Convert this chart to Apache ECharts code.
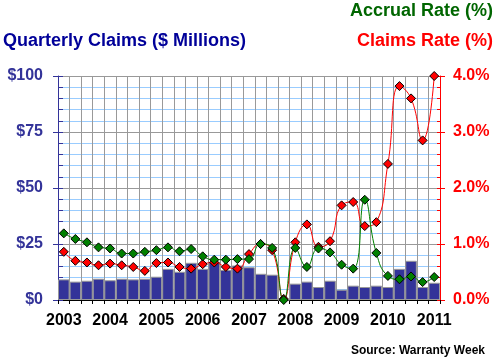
<!DOCTYPE html>
<html><head><meta charset="utf-8">
<script src="https://cdn.jsdelivr.net/npm/echarts@6/dist/echarts.min.js"></script>
<style>html,body{margin:0;padding:0;background:#fff}#c{width:496px;height:362px}</style>
</head><body><div id="c"></div>
<script>
const quarters = ['2003','2003Q2','2003Q3','2003Q4','2004','2004Q2','2004Q3','2004Q4','2005','2005Q2','2005Q3','2005Q4','2006','2006Q2','2006Q3','2006Q4','2007','2007Q2','2007Q3','2007Q4','2008','2008Q2','2008Q3','2008Q4','2009','2009Q2','2009Q3','2009Q4','2010','2010Q2','2010Q3','2010Q4','2011'];
const claims = [9.2,8.2,8.6,9.5,8.8,9.5,9.2,9.5,10.4,13.9,12.6,16.6,13.9,17.1,13.4,15.4,14.6,11.7,11.3,0,7.3,8.2,5.8,8.6,4.6,6.4,5.8,6.4,5.8,13.9,17.5,5.8,7.7];
const claimsRate = [0.86,0.70,0.67,0.62,0.65,0.62,0.59,0.52,0.66,0.67,0.59,0.56,0.64,0.67,0.59,0.56,0.82,1.00,0.89,0.02,1.03,1.35,0.95,1.05,1.69,1.75,1.32,1.39,2.43,3.82,3.60,2.85,4.00];
const accrualRate = [1.19,1.09,1.03,0.94,0.92,0.83,0.83,0.86,0.89,0.94,0.87,0.91,0.78,0.72,0.72,0.73,0.73,1.00,0.93,0.00,0.93,0.59,0.92,0.85,0.63,0.56,1.79,0.84,0.43,0.37,0.42,0.32,0.41];
const leftTicks = ['$0','$25','$50','$75','$100'];

const FONT = 'Arial, "Liberation Sans", sans-serif';
const chart = echarts.init(document.getElementById('c'));
chart.setOption({
  animation: false,
  backgroundColor: '#fff',
  textStyle: {fontFamily: FONT},
  graphic: [
    {type:'text', right: 3, top: 2, style:{text:'Accrual Rate (%)', fill:'#006600', font:'bold 18px '+FONT}},
    {type:'text', left: 3, top: 32, style:{text:'Quarterly Claims ($ Millions)', fill:'#000099', font:'bold 18px '+FONT}},
    {type:'text', right: 3, top: 32, style:{text:'Claims Rate (%)', fill:'#ff0000', font:'bold 18px '+FONT}},
    {type:'text', right: 11, top: 345, style:{text:'Source: Warranty Week', fill:'#000', font:'bold 12px '+FONT}}
  ],
  grid: {left: 58, right: 56, top: 76, bottom: 62},
  xAxis: {
    type: 'category', data: quarters, boundaryGap: true,
    axisLine: {lineStyle: {color: '#000', width: 1}},
    axisTick: {show: true, interval: 0, length: 4, lineStyle: {color: '#000'}},
    axisLabel: {
      interval: 0, color: '#000', fontWeight: 'bold', fontSize: 16, margin: 13, fontFamily: FONT,
      formatter: v => (v.length === 4 ? v : '')
    },
    splitLine: {show: true, interval: 0, lineStyle: {color: '#999999', width: 1}}
  },
  yAxis: [
    {
      type: 'value', min: 0, max: 100, interval: 25, position: 'left',
      axisLine: {show: true, lineStyle: {color: '#333399'}},
      axisTick: {show: true, inside: true, length: 5, lineStyle: {color: '#333399'}},
      minorTick: {show: true, splitNumber: 5, length: 5, lineStyle: {color: '#333399'}},
      axisLabel: {color: '#333399', fontWeight: 'bold', fontSize: 16, margin: 15, fontFamily: FONT,
        formatter: v => leftTicks[Math.round(v / 25)]},
      splitLine: {show: true, lineStyle: {color: '#999999', width: 1}},
      minorSplitLine: {show: true, lineStyle: {color: '#99ccff', width: 1}}
    },
    {
      type: 'value', min: 0, max: 4, interval: 1, position: 'right',
      axisLine: {show: true, lineStyle: {color: '#ff0000'}},
      axisTick: {show: true, inside: true, length: 3, lineStyle: {color: '#ff0000'}},
      minorTick: {show: true, splitNumber: 5, length: 3, lineStyle: {color: '#ff0000'}},
      axisLabel: {color: '#ff0000', fontWeight: 'bold', fontSize: 16, margin: 13, fontFamily: FONT,
        formatter: v => v.toFixed(1) + '%'},
      splitLine: {show: false}
    },
    {
      type: 'value', min: 0, max: 100, interval: 25, position: 'left',
      axisLine: {show: false},
      axisTick: {show: true, inside: false, length: 5, lineStyle: {color: '#333399'}},
      axisLabel: {show: false}, splitLine: {show: false}
    },
    {
      type: 'value', min: 0, max: 4, interval: 1, position: 'right',
      axisLine: {show: false},
      axisTick: {show: true, inside: false, length: 5, lineStyle: {color: '#ff0000'}},
      axisLabel: {show: false}, splitLine: {show: false}
    }
  ],
  series: [
    {
      type: 'bar', data: claims, yAxisIndex: 0, barWidth: '100%', barCategoryGap: 0,
      itemStyle: {color: '#333399', borderColor: '#999999', borderWidth: 1}
    },
    {
      type: 'line', data: claimsRate, yAxisIndex: 1, smooth: 0.5,
      lineStyle: {color: '#ff0000', width: 1},
      symbol: 'diamond', symbolSize: 9, showAllSymbol: true,
      itemStyle: {color: '#ff0000', borderColor: '#000', borderWidth: 1}
    },
    {
      type: 'line', data: accrualRate, yAxisIndex: 1, smooth: 0.5,
      lineStyle: {color: '#008000', width: 1},
      symbol: 'diamond', symbolSize: 9, showAllSymbol: true,
      itemStyle: {color: '#008000', borderColor: '#000', borderWidth: 1}
    }
  ]
});
</script></body></html>
